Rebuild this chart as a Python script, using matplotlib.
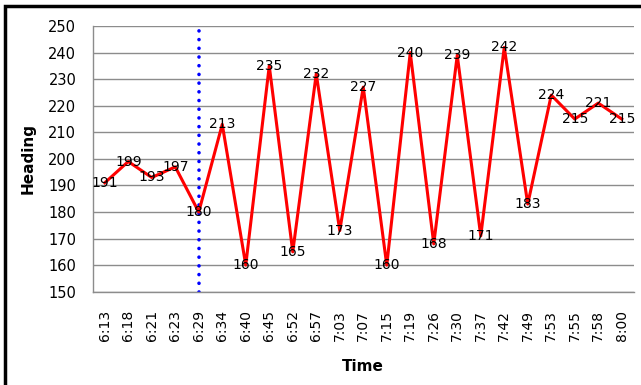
import matplotlib.pyplot as plt
from matplotlib.patches import Rectangle

# Heading readings over time
times = ['6:13', '6:18', '6:21', '6:23', '6:29', '6:34', '6:40', '6:45', '6:52',
         '6:57', '7:03', '7:07', '7:15', '7:19', '7:26', '7:30', '7:37', '7:42',
         '7:49', '7:53', '7:55', '7:58', '8:00']
heading = [191, 199, 193, 197, 180, 213, 160, 235, 165, 232, 173, 227, 160,
           240, 168, 239, 171, 242, 183, 224, 215, 221, 215]
marker_time = '6:29'
y_ticks = list(range(150, 251, 10))

plt.rcParams['font.family'] = ['DejaVu Sans']

fig = plt.figure(figsize=(6.41, 3.85), dpi=100)
ax = fig.add_axes([0.1451, 0.2423, 0.8432, 0.690])

x = list(range(len(times)))
ax.plot(x, heading, color='#ff0000', linewidth=2.2, zorder=3)

# data labels centred on the points, like Excel
for xi, v in zip(x, heading):
    ax.text(xi, v, str(v), ha='center', va='center', fontsize=10, zorder=4)

# dotted marker line
ax.axvline(times.index(marker_time), color='#0000ff', linewidth=2.6,
           linestyle=(0, (0.01, 2.4)), dash_capstyle='round', zorder=2)

ax.set_xlim(-0.5, len(times) - 0.5)
ax.set_ylim(150, 250)
ax.set_yticks(y_ticks)
ax.set_xticks(x)
ax.set_xticklabels(times, rotation=90, fontsize=10)
ax.tick_params(axis='y', labelsize=10.5, length=0, pad=12)
ax.tick_params(axis='x', length=0, pad=13)
ax.grid(axis='y', color='#8c8c8c', linewidth=1)
ax.set_axisbelow(True)
for s in ['top', 'right']:
    ax.spines[s].set_visible(False)
for s in ['left', 'bottom']:
    ax.spines[s].set_color('#8c8c8c')
    ax.spines[s].set_linewidth(1)

ax.set_xlabel('Time', fontweight='bold', fontsize=11, labelpad=13)
ax.set_ylabel('Heading', fontweight='bold', fontsize=11, labelpad=9)

# chart border
fig.patches.append(Rectangle((5 / 641, -0.05), 1.05, 1 - 6 / 385 + 0.05,
                             transform=fig.transFigure, fill=False,
                             edgecolor='black', linewidth=2.5))

fig.savefig('out.png', dpi=100)
